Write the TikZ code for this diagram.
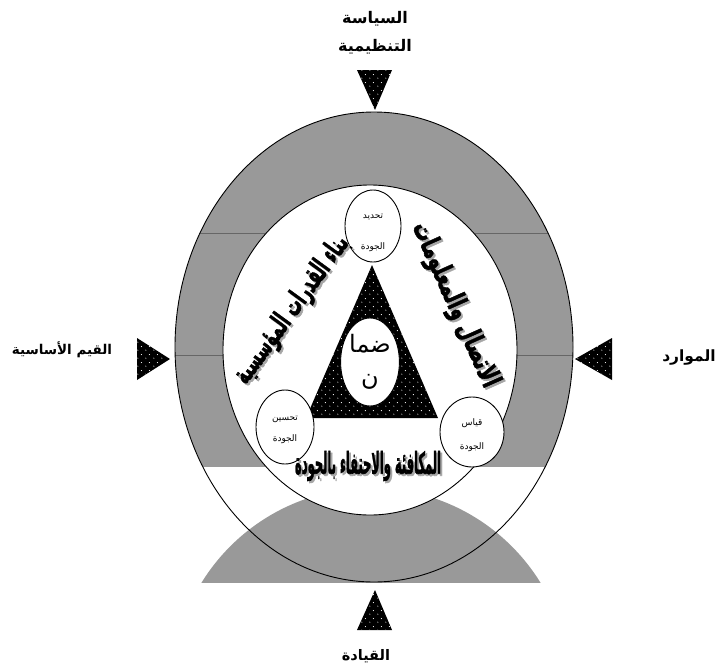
\documentclass[tikz,border=0pt]{standalone}
\usepackage{fontspec}
\usepackage{graphicx}
\usetikzlibrary{shapes.geometric, patterns.meta}
\TeXXeTstate=1
\newfontfamily\arabicfont[Script=Arabic]{DejaVu Sans}
\newfontfamily\arabicheavy[Script=Arabic, FakeBold=2]{DejaVu Sans}

\tikzdeclarepattern{
  name=whitedots,
  type=uncolored,
  bounding box={(0pt,0pt) and (8pt,8pt)},
  tile size={(8pt,8pt)},
  code={
    \fill (2pt,2pt) circle (0.6pt);
    \fill (6pt,6pt) circle (0.6pt);
  }
}

\begin{document}
\begin{tikzpicture}[x=1pt, y=-1pt,
    band/.style={fill=black!40},
    pointer/.style={fill=black, postaction={pattern=whitedots, pattern color=white}},
    bubble/.style={draw, line width=0.9pt, fill=white, ellipse, inner sep=0pt},
    bubbletext/.style={align=center, inner sep=0pt, font=\arabicfont\fontsize{9}{11}\selectfont},
    sidelabel/.style={font=\arabicfont\bfseries\fontsize{14.5}{28}\selectfont, align=center},
    wordart/.style={inner sep=0pt},
    ghost/.style={inner sep=0pt, text=black!35}]
\useasboundingbox (0,0) rectangle (718,672);

% grey ring, upper part and lower arch
\begin{scope}
  \clip (0,0) rectangle (718,466);
  \fill[band] (374,347) ellipse [x radius=199, y radius=235];
\end{scope}
\begin{scope}
  \clip (0,488) rectangle (718,582);
  \fill[band] (371,687) circle [radius=199];
\end{scope}
\begin{scope}
  \clip (374,347) ellipse [x radius=199, y radius=235];
  \draw[black!60, line width=0.3pt] (170,233) -- (580,233);
  \draw[black!60, line width=0.3pt] (170,355) -- (580,355);
\end{scope}

% the two rings
\draw[line width=0.9pt] (374,347) ellipse [x radius=199, y radius=235];
\draw[line width=0.9pt, fill=white] (370,350) ellipse [x radius=147, y radius=165];

% inner triangle
\fill[pointer] (372,265) -- (438,418) -- (306,418) -- cycle;

% bubbles
\node[bubble, minimum width=56pt, minimum height=72pt] (define) at (373,226) {};
\node[bubble, minimum width=58pt, minimum height=74pt] (improve) at (285,427) {};
\node[bubble, minimum width=64pt, minimum height=70pt] (measure) at (472,432) {};
\node[bubble, minimum width=56pt, minimum height=88pt, align=center,
  font=\arabicfont\fontsize{24}{33}\selectfont] (assure) at (370,362) {\beginR ضما\endR\\\beginR ن\endR};
\node[bubbletext] (definetxt) at ([yshift=-7pt]define.center) {\beginR تحديد\endR\\[20pt]\beginR الجودة\endR};
\node[bubbletext] (improvetxt) at ([yshift=-3pt]improve.center) {\beginR تحسين\endR\\[10pt]\beginR الجودة\endR};
\node[bubbletext] (measuretxt) at ([yshift=-3pt]measure.center) {\beginR قياس\endR\\[13pt]\beginR الجودة\endR};

% wordart texts with their grey echo
\node[ghost, rotate=54] at (294,312) {\resizebox*{176pt}{28pt}{\arabicheavy\bfseries\beginR بناء القدرات المؤسسية\endR}};
\node[wordart, rotate=54] (build) at (292,310) {\resizebox*{176pt}{28pt}{\arabicheavy\bfseries\beginR بناء القدرات المؤسسية\endR}};
\node[ghost, rotate=-66] at (457,307) {\resizebox*{178pt}{28pt}{\arabicheavy\bfseries\beginR الاتصال والمعلومات\endR}};
\node[wordart, rotate=-66] (comm) at (455,305) {\resizebox*{178pt}{28pt}{\arabicheavy\bfseries\beginR الاتصال والمعلومات\endR}};
\node[ghost] at (370,468) {\resizebox*{146pt}{30pt}{\arabicheavy\bfseries\beginR المكافئة والاحتفاء بالجودة\endR}};
\node[wordart] (reward) at (368,466) {\resizebox*{146pt}{30pt}{\arabicheavy\bfseries\beginR المكافئة والاحتفاء بالجودة\endR}};

% pointers from outside
\fill[pointer] (357,70) -- (392,70) -- (375,110) -- cycle;
\fill[pointer] (357,630) -- (392,630) -- (375,590) -- cycle;
\fill[pointer] (137,338) -- (137,380) -- (170,359) -- cycle;
\fill[pointer] (612,338) -- (612,380) -- (575,359) -- cycle;

% outside labels
\node[sidelabel, font=\arabicfont\bfseries\fontsize{16}{28}\selectfont] (policy) at (375,33) {\beginR السياسة\endR\\\beginR التنظيمية\endR};
\node[sidelabel, font=\arabicfont\bfseries\fontsize{13.5}{28}\selectfont] (values) at (62,350) {\beginR القيم الأساسية\endR};
\node[sidelabel, font=\arabicfont\bfseries\fontsize{15.5}{28}\selectfont] (resources) at (689,357) {\beginR الموارد\endR};
\node[sidelabel] (lead) at (366,656) {\beginR القيادة\endR};
\end{tikzpicture}
\end{document}
